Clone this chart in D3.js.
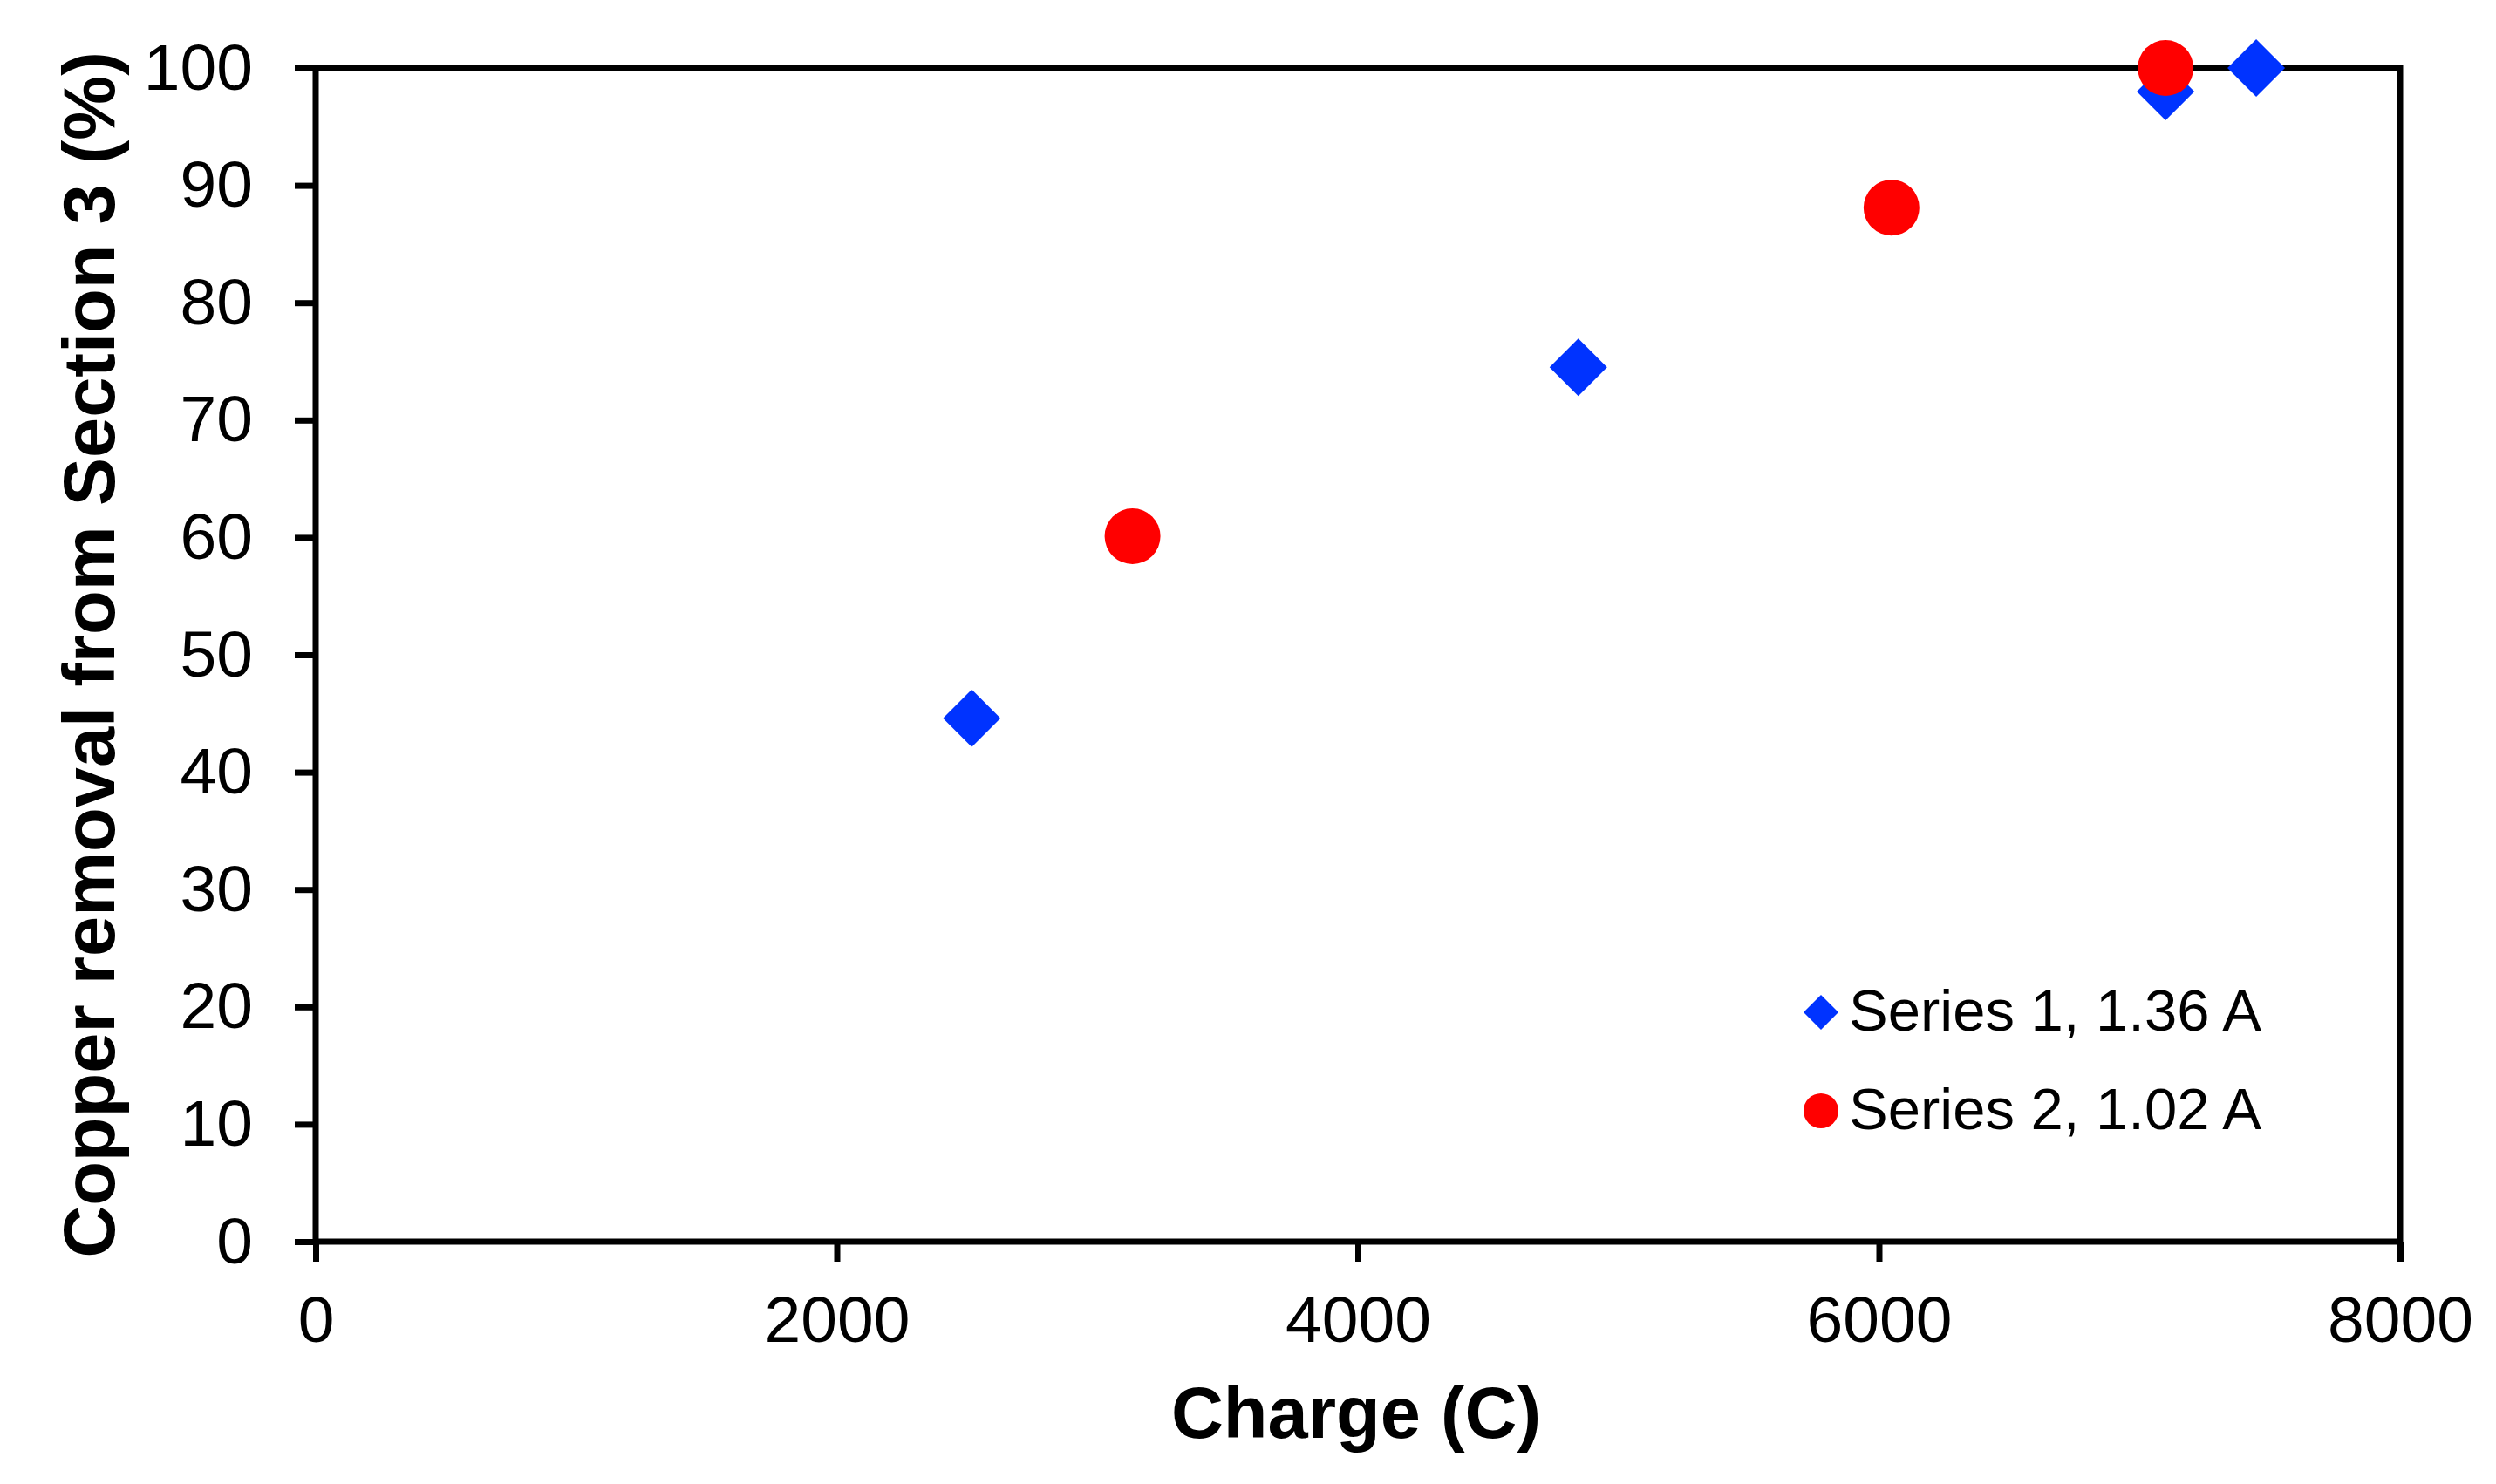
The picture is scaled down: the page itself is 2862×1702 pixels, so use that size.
<!DOCTYPE html>
<html>
<head>
<meta charset="utf-8">
<script src="https://cdn.jsdelivr.net/npm/d3@7"></script>
<style>
  html, body { margin: 0; padding: 0; background: #fff; }
  text { font-family: "Liberation Sans", Arial, sans-serif; }
</style>
</head>
<body>
<svg id="chart" width="2862" height="1702"></svg>
<script>
'use strict';

// данные
const series1Charge = [2518, 4846, 7100, 7448];
const series1Removal = [44.6, 74.5, 98.0, 100];
const series2Charge = [3135, 6048, 7100];
const series2Removal = [60.1, 88.1, 100];

const xTicks = [0, 2000, 4000, 6000, 8000];
const yTicks = [0, 10, 20, 30, 40, 50, 60, 70, 80, 90, 100];

const legendLabels = ['Series 1, 1.36 A', 'Series 2, 1.02 A'];
const BLUE = '#0033ff';
const RED = '#ff0000';

// рамка графика
const plotLeft = 362, plotRight = 2752, plotTop = 78, plotBottom = 1424;
const STROKE = 7;

const svg = d3.select('#chart');

const x = d3.scaleLinear().domain([0, 8000]).range([plotLeft, plotRight]);
const y = d3.scaleLinear().domain([0, 100]).range([plotBottom, plotTop]);

// оси
const xAxis = svg.append('g')
  .attr('transform', `translate(0,${plotBottom})`)
  .call(d3.axisBottom(x).tickValues(xTicks).tickSize(23).tickPadding(39).tickFormat(d3.format('d')));

const yAxis = svg.append('g')
  .attr('transform', `translate(${plotLeft},0)`)
  .call(d3.axisLeft(y).tickValues(yTicks).tickSize(24).tickPadding(48));

[xAxis, yAxis].forEach(g => {
  g.select('.domain').remove();
  g.selectAll('line').attr('stroke', '#000').attr('stroke-width', STROKE);
  g.selectAll('text')
    .attr('fill', '#000')
    .style('font-size', '75px')
    .style('font-family', '"Liberation Sans", Arial, sans-serif');
});

// рамка: все четыре стороны
svg.append('rect')
  .attr('x', plotLeft)
  .attr('y', plotTop)
  .attr('width', plotRight - plotLeft)
  .attr('height', plotBottom - plotTop)
  .attr('fill', 'none')
  .attr('stroke', '#000')
  .attr('stroke-width', STROKE);

// подписи осей
svg.append('text')
  .attr('x', (plotLeft + plotRight) / 2 - 2)
  .attr('y', 1649)
  .attr('text-anchor', 'middle')
  .style('font-size', '83px')
  .style('font-weight', 'bold')
  .text('Charge (C)');

svg.append('text')
  .attr('transform', `translate(131,${(plotTop + plotBottom) / 2}) rotate(-90)`)
  .attr('text-anchor', 'middle')
  .style('font-size', '83px')
  .style('font-weight', 'bold')
  .text('Copper removal from Section 3 (%)');

// ромб
const diamond = (cx, cy, h) => `M${cx},${cy - h}L${cx + h},${cy}L${cx},${cy + h}L${cx - h},${cy}Z`;

const s1 = series1Charge.map((c, i) => ({c, r: series1Removal[i]}));
const s2 = series2Charge.map((c, i) => ({c, r: series2Removal[i]}));

svg.selectAll('path.s1')
  .data(s1)
  .enter()
  .append('path')
  .attr('class', 's1')
  .attr('fill', BLUE)
  .attr('d', d => diamond(x(d.c), y(d.r), 33));

svg.selectAll('circle.s2')
  .data(s2)
  .enter()
  .append('circle')
  .attr('class', 's2')
  .attr('fill', RED)
  .attr('cx', d => x(d.c))
  .attr('cy', d => y(d.r))
  .attr('r', 32);

// легенда
const legend = svg.append('g');
const legendY = [1161, 1274];

legend.append('path')
  .attr('fill', BLUE)
  .attr('d', diamond(2088, legendY[0], 20));
legend.append('circle')
  .attr('fill', RED)
  .attr('cx', 2088)
  .attr('cy', legendY[1])
  .attr('r', 20);

legend.selectAll('text')
  .data(legendLabels)
  .enter()
  .append('text')
  .attr('x', 2120)
  .attr('y', (d, i) => legendY[i] + 21)
  .style('font-size', '67px')
  .text(d => d);
</script>
</body>
</html>
